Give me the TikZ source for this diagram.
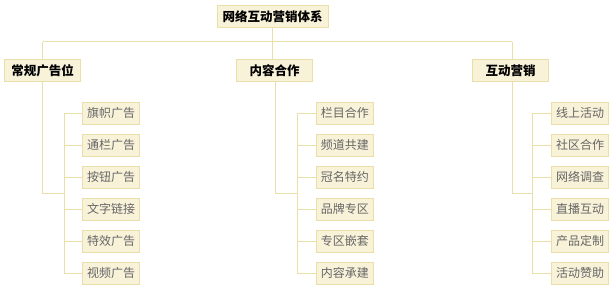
\documentclass[tikz,border=0pt]{standalone}
\usepackage{fontspec}
\newfontfamily\cjk{Noto Sans CJK SC}
\newfontfamily\cjkb{Noto Sans CJK SC Bold}
\definecolor{boxfill}{HTML}{F8F2D9}
\definecolor{boxline}{HTML}{EADFA8}
\definecolor{childtext}{HTML}{666666}
\begin{document}
\begin{tikzpicture}[x=1pt,y=-1pt,
  rootbox/.style={draw=boxline,fill=boxfill,line width=1pt,minimum width=111pt,minimum height=22pt,inner sep=0pt,font=\cjk\bfseries\fontsize{12.5}{13}\selectfont,text=black},
  catbox/.style={draw=boxline,fill=boxfill,line width=1pt,minimum width=76.5pt,minimum height=22pt,inner sep=0pt,font=\cjk\bfseries\fontsize{12.5}{13}\selectfont,text=black},
  leafbox/.style={draw=boxline,fill=boxfill,line width=1pt,minimum width=57pt,minimum height=22pt,inner sep=0pt,font=\cjk\fontsize{12}{13}\selectfont,text=childtext},
  link/.style={draw=boxline,line width=1pt}]
\useasboundingbox (0,0) rectangle (613,289);
\fill[white] (0,0) rectangle (613,289);
% root
\node[rootbox] (root) at (272.5,16.3) {网络互动营销体系};
% categories
\node[catbox] (c1) at (42.7,70.5) {常规广告位};
\node[catbox] (c2) at (274.7,70.5) {内容合作};
\node[catbox] (c3) at (510.5,70.5) {互动营销};
% hub coordinates
\coordinate (h) at (272.5,41.7);
\coordinate (h1) at (42.7,41.7);
\coordinate (h3) at (512.3,41.7);
\draw[link] (root.south) -- (h);
\draw[link] (h1) -- (h3);
\draw[link] (h1) -- (h1 |- c1.north);
\draw[link] (h3) -- (h3 |- c3.north);
\draw[link] (c2.north -| h) -- (h);
% leaves
\def\ys{{113.3,145.3,177.3,209.3,241.3,273.3}}
\foreach \t [count=\i] in {旗帜广告,通栏广告,按钮广告,文字链接,特效广告,视频广告}{
  \pgfmathsetmacro\yy{\ys[\i-1]}
  \node[leafbox] (a\i) at (111,\yy) {\t};
  \coordinate (ab\i) at (64.3,\yy);
  \draw[link] (ab\i) -- (a\i.west);
}
\foreach \t [count=\i] in {栏目合作,频道共建,冠名特约,品牌专区,专区嵌套,内容承建}{
  \pgfmathsetmacro\yy{\ys[\i-1]}
  \node[leafbox] (b\i) at (344.8,\yy) {\t};
  \coordinate (bb\i) at (297.3,\yy);
  \draw[link] (bb\i) -- (b\i.west);
}
\foreach \t [count=\i] in {线上活动,社区合作,网络调查,直播互动,产品定制,活动赞助}{
  \pgfmathsetmacro\yy{\ys[\i-1]}
  \node[leafbox] (d\i) at (580,\yy) {\t};
  \coordinate (db\i) at (532.3,\yy);
  \draw[link] (db\i) -- (d\i.west);
}
% group trunks
\coordinate (m1) at (42.7,193.3);
\coordinate (n1) at (64.3,193.3);
\draw[link] (c1.south -| m1) -- (m1) -- (n1);
\draw[link] (ab1) -- (ab6);
\coordinate (m2) at (275.3,193.3);
\coordinate (n2) at (297.3,193.3);
\draw[link] (c2.south -| m2) -- (m2) -- (n2);
\draw[link] (bb1) -- (bb6);
\coordinate (m3) at (512.3,193.3);
\coordinate (n3) at (532.3,193.3);
\draw[link] (c3.south -| m3) -- (m3) -- (n3);
\draw[link] (db1) -- (db6);
\end{tikzpicture}
\end{document}
